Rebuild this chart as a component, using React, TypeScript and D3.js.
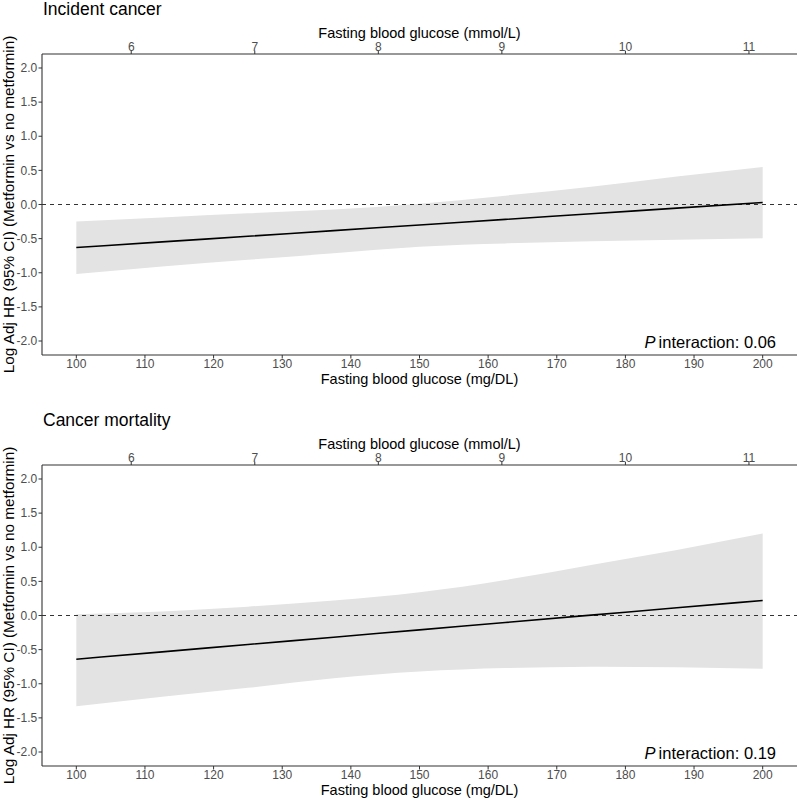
import React from "react";
import * as d3 from "d3";

// ---- data ----
const glucoseMgDl = [100, 112.5, 125, 137.5, 150, 162.5, 175, 187.5, 200];

const incidentEst = [-0.63, -0.548, -0.465, -0.383, -0.3, -0.218, -0.135, -0.053, 0.03];
const incidentUpper = [-0.25, -0.19, -0.13, -0.075, 0.01, 0.13, 0.26, 0.41, 0.55];
const incidentLower = [-1.02, -0.91, -0.81, -0.715, -0.62, -0.57, -0.54, -0.515, -0.495];

const mortalityEst = [-0.64, -0.533, -0.425, -0.318, -0.21, -0.103, 0.005, 0.113, 0.22];
const mortalityUpper = [0.02, 0.06, 0.13, 0.22, 0.34, 0.52, 0.74, 0.96, 1.2];
const mortalityLower = [-1.33, -1.19, -1.06, -0.92, -0.82, -0.77, -0.75, -0.76, -0.78];

const mgTicks = [100, 110, 120, 130, 140, 150, 160, 170, 180, 190, 200];
const mmolTicks = [6, 7, 8, 9, 10, 11];
const yTicks = [2, 1.5, 1, 0.5, 0, -0.5, -1, -1.5, -2];
const MG_PER_MMOL = 18;

const panelTitles = ["Incident cancer", "Cancer mortality"];
const pValues = ["0.06", "0.19"];

const FONT = "'Liberation Sans', Arial, Helvetica, sans-serif";

type PanelProps = {
  top: number;
  title: string;
  est: number[];
  upper: number[];
  lower: number[];
  p: string;
};

const left = 42;
const right = 797;
const panelH = 301;

const fmtY = (t: number) => d3.format(".1f")(t).replace("\u2212", "-");

function Panel({ top, title, est, upper, lower, p }: PanelProps) {
  const x = d3.scaleLinear().domain([95, 205]).range([left, right]);
  const y = d3.scaleLinear().domain([-2.205, 2.205]).range([top + panelH, top]);
  const idx = glucoseMgDl.map((_, i) => i);
  const area = d3
    .area<number>()
    .x((i) => x(glucoseMgDl[i]))
    .y0((i) => y(lower[i]))
    .y1((i) => y(upper[i]))
    .curve(d3.curveNatural);
  const line = d3
    .line<number>()
    .x((i) => x(glucoseMgDl[i]))
    .y((i) => y(est[i]))
    .curve(d3.curveMonotoneX);
  const bottom = top + panelH;
  const axisColor = "#333333";
  const tickText = "#4d4d4d";
  const cx = (left + right) / 2;
  return (
    <g>
      <text x={43} y={top - 39} fontSize={17.5} fill="#000" fontFamily={FONT}>
        {title}
      </text>
      <path d={area(idx) || ""} fill="#e3e3e3" stroke="none" />
      <line
        x1={left}
        x2={right}
        y1={y(0)}
        y2={y(0)}
        stroke="#333"
        strokeWidth={1}
        strokeDasharray="4,4"
      />
      <path d={line(idx) || ""} fill="none" stroke="#000" strokeWidth={1.6} />
      {/* left axis */}
      <line x1={left} x2={left} y1={top} y2={bottom} stroke={axisColor} strokeWidth={1.1} />
      {yTicks.map((t) => (
        <g key={t}>
          <line x1={left - 3.5} x2={left} y1={y(t)} y2={y(t)} stroke={axisColor} strokeWidth={1} />
          <text
            x={left - 4.8}
            y={y(t)}
            dy="0.35em"
            textAnchor="end"
            fontSize={12}
            fill={tickText}
            fontFamily={FONT}
          >
            {fmtY(t)}
          </text>
        </g>
      ))}
      {/* bottom axis */}
      <line x1={left} x2={right} y1={bottom} y2={bottom} stroke={axisColor} strokeWidth={1.1} />
      {mgTicks.map((t) => (
        <g key={t}>
          <line x1={x(t)} x2={x(t)} y1={bottom} y2={bottom + 3.5} stroke={axisColor} strokeWidth={1} />
          <text
            x={x(t)}
            y={bottom + 12.8}
            textAnchor="middle"
            fontSize={12}
            fill={tickText}
            fontFamily={FONT}
          >
            {t}
          </text>
        </g>
      ))}
      <text x={cx} y={bottom + 28.5} textAnchor="middle" fontSize={14.5} fill="#000" fontFamily={FONT}>
        Fasting blood glucose (mg/DL)
      </text>
      {/* top axis */}
      <line x1={left} x2={right} y1={top} y2={top} stroke={axisColor} strokeWidth={1.1} />
      {mmolTicks.map((t) => (
        <g key={t}>
          <line
            x1={x(t * MG_PER_MMOL)}
            x2={x(t * MG_PER_MMOL)}
            y1={top}
            y2={top - 3.3}
            stroke={axisColor}
            strokeWidth={1}
          />
          <text
            x={x(t * MG_PER_MMOL)}
            y={top - 3.5}
            textAnchor="middle"
            fontSize={12}
            fill={tickText}
            fontFamily={FONT}
          >
            {t}
          </text>
        </g>
      ))}
      <text x={cx} y={top - 16.5} textAnchor="middle" fontSize={14.5} fill="#000" fontFamily={FONT}>
        Fasting blood glucose (mmol/L)
      </text>
      {/* y title */}
      <text
        transform={`translate(13.5,${(top + bottom) / 2}) rotate(-90)`}
        textAnchor="middle"
        fontSize={15.3}
        fill="#000"
        fontFamily={FONT}
      >
        Log Adj HR (95% CI) (Metformin vs no metformin)
      </text>
      {/* p interaction */}
      <text x={776} y={bottom - 7} textAnchor="end" fontSize={16.5} fill="#000" fontFamily={FONT}>
        <tspan fontStyle="italic">P</tspan>
        <tspan dx={3}>interaction: {p}</tspan>
      </text>
    </g>
  );
}

export default function App() {
  return (
    <svg
      width={800}
      height={800}
      viewBox="0 0 800 800"
      style={{ position: "absolute", left: 0, top: 0, background: "#fff" }}
    >
      <rect x={0} y={0} width={800} height={800} fill="#fff" />
      <Panel
        top={54}
        title={panelTitles[0]}
        est={incidentEst}
        upper={incidentUpper}
        lower={incidentLower}
        p={pValues[0]}
      />
      <Panel
        top={465}
        title={panelTitles[1]}
        est={mortalityEst}
        upper={mortalityUpper}
        lower={mortalityLower}
        p={pValues[1]}
      />
    </svg>
  );
}
